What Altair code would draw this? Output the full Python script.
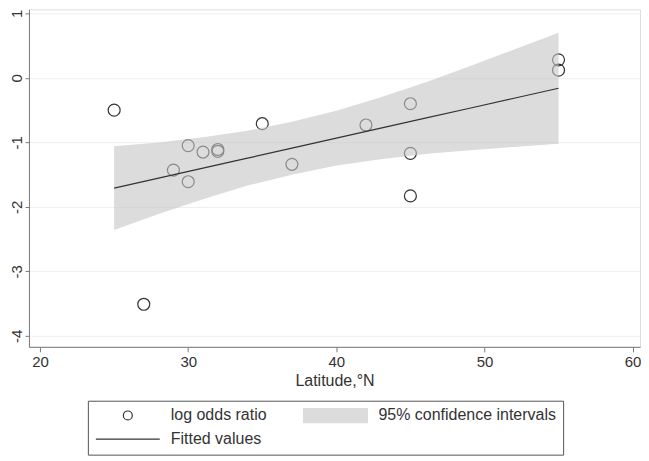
import altair as alt
import pandas as pd

# ---- data ----
latitude = [25, 27, 29, 30, 30, 31, 32, 32, 35, 37, 42, 45, 45, 45, 55, 55]
log_odds = [-0.50, -3.51, -1.43, -1.05, -1.61, -1.15, -1.11, -1.14, -0.71,
            -1.34, -0.73, -0.40, -1.17, -1.83, 0.28, 0.12]

band_lat = [25, 28, 31, 34, 37, 40, 43, 46, 49, 52, 55]
fitted = [-1.71, -1.555, -1.40, -1.245, -1.09, -0.935, -0.78, -0.625, -0.47, -0.315, -0.16]
ci_upper = [-1.06, -1.00, -0.92, -0.82, -0.68, -0.51, -0.30, -0.07, 0.18, 0.44, 0.70]
ci_lower = [-2.36, -2.11, -1.88, -1.67, -1.50, -1.36, -1.26, -1.18, -1.12, -1.07, -1.02]

series_names = ["log odds ratio", "95% confidence intervals", "Fitted values"]
x_ticks = [20, 30, 40, 50, 60]
y_ticks = [-4, -3, -2, -1, 0, 1]

# ---- tables ----
pts = pd.DataFrame({"lat": latitude, "lor": log_odds, "series": series_names[0]})
band = pd.DataFrame({"lat": band_lat, "fit": fitted, "lo": ci_lower, "hi": ci_upper})

FONT = "Liberation Sans"
TXT = "#333333"
AX = "#7a7a7a"

circle_path = "M-0.14,0A0.14,0.14,0,1,1,0.14,0A0.14,0.14,0,1,1,-0.14,0Z"
rect_path = "M-1,-0.23H1V0.23H-1Z"
line_path = "M-1,0H1"

x_scale = alt.Scale(domain=[19.25, 60.5], nice=False, zero=False)
y_scale = alt.Scale(domain=[-4.17, 1.063], nice=False, zero=False)

x_axis = alt.Axis(values=x_ticks, grid=False, title="Latitude,°N", tickSize=5,
                  labelFontSize=15, titleFontSize=16, titleFontWeight="normal",
                  labelPadding=3, titlePadding=3, domainColor=AX, tickColor=AX,
                  labelColor=TXT, titleColor=TXT, labelFont=FONT, titleFont=FONT)
y_axis = alt.Axis(values=y_ticks, grid=True, gridColor="#efefef", title=None,
                  labelAngle=270, labelAlign="center", labelBaseline="bottom",
                  tickSize=4, labelPadding=0, labelFontSize=15, labelColor=TXT,
                  domainColor=AX, tickColor=AX, labelFont=FONT,
                  labelExpr="'' + datum.value")

def leg():
    return alt.Legend(title=None, orient="none", legendX=59, legendY=392,
                      columns=2, direction="horizontal", symbolSize=4096,
                      clipHeight=15, rowPadding=7, columnPadding=35,
                      labelOffset=10, padding=7, strokeColor="#555555",
                      symbolStrokeWidth=1.2, labelFontSize=16, labelFont=FONT,
                      labelColor=TXT, labelLimit=400)

points = alt.Chart(pts).mark_point(size=7300, strokeWidth=1.2, opacity=1, filled=False).encode(
    x=alt.X("lat:Q", scale=x_scale, axis=x_axis),
    y=alt.Y("lor:Q", scale=y_scale, axis=y_axis),
    shape=alt.Shape("series:N", scale=alt.Scale(domain=series_names,
                    range=[circle_path, rect_path, line_path]), legend=leg()),
    fill=alt.Fill("series:N", scale=alt.Scale(domain=series_names,
                  range=["transparent", "#dcdcdc", "transparent"]), legend=leg()),
    stroke=alt.Stroke("series:N", scale=alt.Scale(domain=series_names,
                      range=["#333333", "#dcdcdc", "#333333"]), legend=leg()),
)

area = alt.Chart(band).mark_area(color="#c4c4c4", opacity=0.6).encode(
    x="lat:Q", y="lo:Q", y2="hi:Q"
)

line = alt.Chart(band).mark_line(color="#333333", strokeWidth=1.2).encode(
    x="lat:Q", y="fit:Q"
)

chart = alt.layer(points, area, line).properties(
    width=612, height=338,
    padding={"left": 2, "top": 0, "right": 0, "bottom": 0},
).configure_view(strokeWidth=0).configure(font=FONT)

chart.save("out.html", embed_options={"renderer": "svg", "actions": False})
